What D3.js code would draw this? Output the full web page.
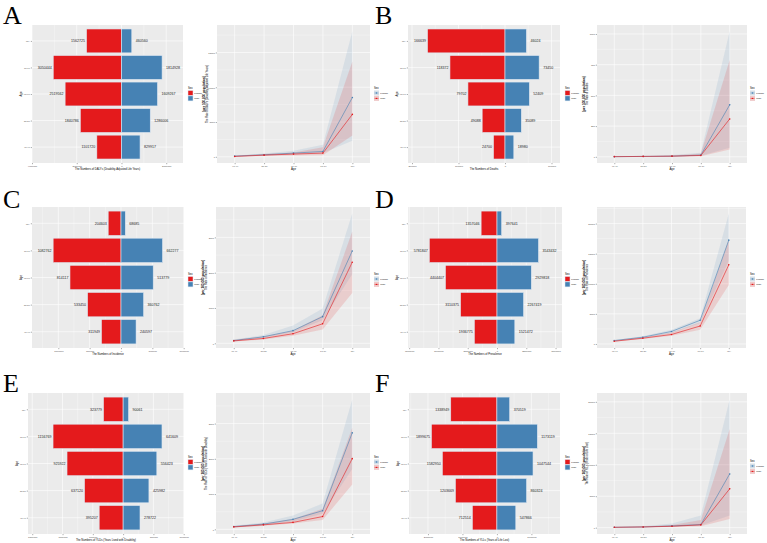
<!DOCTYPE html>
<html><head><meta charset="utf-8">
<script src="https://cdn.jsdelivr.net/npm/d3@7"></script>
<style>body{margin:0;background:#fff} svg{display:block}</style>
</head><body>
<svg id="c" width="767" height="543"></svg>
<script>
// ---------- DATA ----------
const ageGroups = ["40-49","50-59","60-69","70-79","80+"];
const sexes = ["Female","Male"];

// Counts (youngest group first)
const dalysFemale = [1101720, 1840786, 2519562, 3050444, 1562725];
const dalysMale   = [829917, 1286006, 1609267, 1814928, 460560];
const deathsFemale = [24700, 49088, 79702, 118372, 166639];
const deathsMale   = [18980, 35089, 52409, 73450, 46024];
const incidenceFemale = [311949, 533450, 814117, 1082762, 204603];
const incidenceMale   = [240597, 360762, 513779, 662277, 68685];
const prevalenceFemale = [1936775, 3110375, 4404407, 5781847, 1357046];
const prevalenceMale   = [1521472, 2267419, 2929818, 3543432, 397641];
const yldsFemale = [395207, 637120, 925922, 1156769, 323779];
const yldsMale   = [278722, 425982, 556423, 641609, 90061];
const yllsFemale = [712514, 1203669, 1582950, 1899675, 1338949];
const yllsMale   = [547866, 860324, 1047544, 1173119, 370519];

// Count axis limits and ticks
const dalysLimits = [-4000000, 2750000], dalysTicks = [-4000000, -2000000, 0, 2000000];
const deathsLimits = [-208600, 118300], deathsTicks = [-200000, -100000, 0, 100000];
const incidenceLimits = [-1420000, 1005000], incidenceTicks = [-1000000, -500000, 0, 500000, 1000000];
const prevalenceLimits = [-7600000, 5550000], prevalenceTicks = [-7500000, -5000000, -2500000, 0, 2500000, 5000000];
const yldsLimits = [-1570000, 1005000], yldsTicks = [-1500000, -1000000, -500000, 0, 500000, 1000000];
const yllsLimits = [-2550000, 1830000], yllsTicks = [-2000000, -1000000, 0, 1000000];

// Rates per 100,000 (value, lower, upper)
const dalysRateFemale = [100, 290, 530, 770, 8520];
const dalysRateFemaleLow = [50, 190, 340, 530, 2320];
const dalysRateFemaleHigh = [150, 480, 870, 1740, 18050];
const dalysRateMale = [50, 240, 390, 530, 6100];
const dalysRateMaleLow = [10, 100, 190, 240, 3050];
const dalysRateMaleHigh = [150, 390, 630, 1360, 13700];
const dalysRateTicks = [0, 5000, 10000, 15000];

const deathsRateFemale = [1, 3, 5, 14, 423];
const deathsRateFemaleLow = [0.5, 1, 3, 8, 74];
const deathsRateFemaleHigh = [3, 5, 14, 33, 1022];
const deathsRateMale = [1, 3, 5, 11, 308];
const deathsRateMaleLow = [0.5, 1, 3, 5, 60];
const deathsRateMaleHigh = [3, 5, 11, 27, 788];
const deathsRateTicks = [0, 250, 500, 750, 1000];

const incidenceRateFemale = [77, 184, 358, 755, 2614];
const incidenceRateFemaleLow = [68, 155, 310, 649, 1955];
const incidenceRateFemaleHigh = [106, 232, 503, 987, 3679];
const incidenceRateMale = [68, 136, 271, 552, 2294];
const incidenceRateMaleLow = [48, 106, 213, 387, 1423];
const incidenceRateMaleHigh = [97, 194, 358, 794, 3166];
const incidenceRateTicks = [0, 1000, 2000, 3000];

const prevalenceRateFemale = [562, 1124, 2079, 3933, 17247];
const prevalenceRateFemaleLow = [449, 955, 1798, 3483, 13820];
const prevalenceRateFemaleHigh = [618, 1292, 2360, 4270, 21685];
const prevalenceRateMale = [449, 955, 1573, 2978, 13146];
const prevalenceRateMaleLow = [393, 843, 1348, 2360, 9775];
const prevalenceRateMaleHigh = [562, 1124, 1910, 3596, 17360];
const prevalenceRateTicks = [0, 5000, 10000, 15000, 20000];

const yldsRateFemale = [78, 147, 283, 528, 2737];
const yldsRateFemaleLow = [59, 108, 225, 440, 1711];
const yldsRateFemaleHigh = [98, 196, 391, 733, 3685];
const yldsRateMale = [68, 127, 196, 362, 2004];
const yldsRateMaleLow = [49, 98, 166, 264, 1271];
const yldsRateMaleHigh = [88, 166, 293, 587, 2884];
const yldsRateTicks = [0, 1000, 2000, 3000];

const yllsRateFemale = [55, 110, 275, 496, 8540];
const yllsRateFemaleLow = [10, 55, 165, 331, 1928];
const yllsRateFemaleHigh = [110, 220, 661, 1928, 20386];
const yllsRateMale = [55, 110, 220, 441, 6171];
const yllsRateMaleLow = [10, 55, 110, 220, 1377];
const yllsRateMaleHigh = [110, 165, 441, 1212, 15702];
const yllsRateTicks = [0, 5000, 10000, 15000, 20000];

// ---------- DRAWING ----------
const svg = d3.select("#c");
const FONT = "'Liberation Sans', Arial, sans-serif";
const RED = "#E41A1C", BLUE = "#4682B4";
const PANEL = "#EBEBEB";

function styleAxis(sel){
  sel.select(".domain").remove();
  sel.selectAll(".tick line").attr("stroke","#333").attr("stroke-width",0.4);
  sel.selectAll(".tick text").attr("fill","#4D4D4D").style("font-size","2.4px").style("font-family",FONT);
}
function txt(g, x, y, s, size, opts={}){
  const t = g.append("text").attr("x",x).attr("y",y).text(s)
    .style("font-family",FONT).style("font-size",size+"px").attr("fill",opts.fill||"#000");
  if(opts.anchor) t.attr("text-anchor",opts.anchor);
  if(opts.bold) t.style("font-weight","bold");
  if(opts.rotate) t.attr("transform",`rotate(-90,${x},${y})`);
  return t;
}
function minorOf(ticks, lo, hi){
  const st = ticks[1]-ticks[0];
  const ext = [ticks[0]-st, ...ticks, ticks[ticks.length-1]+st];
  const out = [];
  for(let i=0;i<ext.length-1;i++){ const m=(ext[i]+ext[i+1])/2; if(m>lo && m<hi) out.push(m); }
  return out;
}

function drawBar(spec){
  const {box, female, male, limits, ticks, title, leg} = spec;
  const g = svg.append("g");
  const x = d3.scaleLinear().domain(limits).range([box.x0, box.x1]);
  const y = d3.scalePoint().domain(ageGroups).range([box.y1, box.y0]).padding(0.6);
  const bh = y.step()*0.9;
  g.append("rect").attr("x",box.x0).attr("y",box.y0).attr("width",box.x1-box.x0).attr("height",box.y1-box.y0).attr("fill",PANEL);
  minorOf(ticks, limits[0], limits[1]).forEach(v=>{
    g.append("line").attr("x1",x(v)).attr("x2",x(v)).attr("y1",box.y0).attr("y2",box.y1).attr("stroke","#fff").attr("stroke-width",0.3);
  });
  ticks.forEach(v=>{
    g.append("line").attr("x1",x(v)).attr("x2",x(v)).attr("y1",box.y0).attr("y2",box.y1).attr("stroke","#fff").attr("stroke-width",0.6);
  });
  ageGroups.forEach(a=>{
    g.append("line").attr("x1",box.x0).attr("x2",box.x1).attr("y1",y(a)).attr("y2",y(a)).attr("stroke","#fff").attr("stroke-width",0.6);
  });
  const rows = ageGroups.map((a,i)=>({a, f:female[i], m:male[i]}));
  g.selectAll(".bf").data(rows).join("rect")
    .attr("x",d=>x(-d.f)).attr("width",d=>x(0)-x(-d.f))
    .attr("y",d=>y(d.a)-bh/2).attr("height",bh)
    .attr("fill",RED).attr("stroke","#dfe8f2").attr("stroke-width",0.6);
  g.selectAll(".bm").data(rows).join("rect")
    .attr("x",x(0)).attr("width",d=>x(d.m)-x(0))
    .attr("y",d=>y(d.a)-bh/2).attr("height",bh)
    .attr("fill",BLUE).attr("stroke","#dfe8f2").attr("stroke-width",0.6);
  rows.forEach(d=>{
    txt(g, x(-d.f)-1.5, y(d.a)+1.3, d.f, 3.6, {anchor:"end", fill:"#222"});
    txt(g, x(d.m)+4, y(d.a)+1.3, d.m, 3.6, {anchor:"start", fill:"#222"});
  });
  const ax = g.append("g").attr("transform",`translate(0,${box.y1})`)
    .call(d3.axisBottom(x).tickValues(ticks).tickFormat(d=>Math.abs(d)).tickSize(1.2).tickPadding(0.8));
  styleAxis(ax);
  const ay = g.append("g").attr("transform",`translate(${box.x0},0)`)
    .call(d3.axisLeft(y).tickSize(1.2).tickPadding(0.8));
  styleAxis(ay);
  txt(g, (box.x0+box.x1)/2, box.y1+7, title, 2.7, {anchor:"middle"});
  txt(g, box.x0-10, (box.y0+box.y1)/2, "Age", 2.8, {anchor:"middle", rotate:true});
  // legend
  txt(g, leg[0], leg[1]+2, "Sex", 2.7);
  sexes.forEach((s,i)=>{
    const yy = leg[1]+3.5+i*5.4;
    g.append("rect").attr("x",leg[0]).attr("y",yy).attr("width",5).attr("height",5)
      .attr("fill", i===0?RED:BLUE).attr("stroke","#dfe8f2").attr("stroke-width",0.5);
    txt(g, leg[0]+6.3, yy+3.3, s, 2.3);
  });
}

function drawLine(spec){
  const {box, series, ticks, title, leg} = spec;
  const g = svg.append("g");
  const x = d3.scalePoint().domain(ageGroups).range([box.x0, box.x1]).padding(0.6);
  const all = series.flatMap(s=>[...s.lo, ...s.hi, ...s.v]);
  const lo = d3.min(all), hi = d3.max(all), pad = (hi-lo)*0.05;
  const y = d3.scaleLinear().domain([lo-pad, hi+pad]).range([box.y1, box.y0]);
  g.append("rect").attr("x",box.x0).attr("y",box.y0).attr("width",box.x1-box.x0).attr("height",box.y1-box.y0).attr("fill",PANEL);
  minorOf(ticks, lo-pad, hi+pad).forEach(v=>{
    g.append("line").attr("x1",box.x0).attr("x2",box.x1).attr("y1",y(v)).attr("y2",y(v)).attr("stroke","#fff").attr("stroke-width",0.3);
  });
  ticks.forEach(v=>{
    g.append("line").attr("x1",box.x0).attr("x2",box.x1).attr("y1",y(v)).attr("y2",y(v)).attr("stroke","#fff").attr("stroke-width",0.6);
  });
  ageGroups.forEach(a=>{
    g.append("line").attr("x1",x(a)).attr("x2",x(a)).attr("y1",box.y0).attr("y2",box.y1).attr("stroke","#fff").attr("stroke-width",0.6);
  });
  const area = d3.area().x(d=>x(d.a)).y0(d=>y(d.lo)).y1(d=>y(d.hi));
  const line = d3.line().x(d=>x(d.a)).y(d=>y(d.v));
  series.forEach(s=>{
    const pts = ageGroups.map((a,i)=>({a, v:s.v[i], lo:s.lo[i], hi:s.hi[i]}));
    s.pts = pts;
    g.append("path").attr("d",area(pts)).attr("fill",s.color).attr("fill-opacity",s.alpha);
  });
  series.forEach(s=>{
    g.append("path").attr("d",line(s.pts)).attr("fill","none").attr("stroke",s.color).attr("stroke-width",0.6);
    g.selectAll(null).data(s.pts).join("circle").attr("cx",d=>x(d.a)).attr("cy",d=>y(d.v)).attr("r",0.8).attr("fill",s.color);
  });
  const ax = g.append("g").attr("transform",`translate(0,${box.y1})`)
    .call(d3.axisBottom(x).tickSize(1.2).tickPadding(0.8));
  styleAxis(ax);
  const ay = g.append("g").attr("transform",`translate(${box.x0},0)`)
    .call(d3.axisLeft(y).tickValues(ticks).tickFormat(d3.format("d")).tickSize(1.2).tickPadding(0.8));
  styleAxis(ay);
  txt(g, (box.x0+box.x1)/2, box.y1+7, "Age", 2.8, {anchor:"middle"});
  const cy = (box.y0+box.y1)/2;
  txt(g, box.x0-12, cy, "(per 100,000 population)", 3.1, {anchor:"middle", rotate:true, bold:true});
  txt(g, box.x0-9, cy, title, 2.6, {anchor:"middle", rotate:true});
  // legend
  txt(g, leg[0], leg[1]+2, "Sex", 2.7);
  series.forEach((s,i)=>{
    const yy = leg[1]+3.5+i*5.4;
    g.append("rect").attr("x",leg[0]).attr("y",yy).attr("width",5).attr("height",5).attr("fill","#F2F2F2");
    g.append("rect").attr("x",leg[0]).attr("y",yy).attr("width",5).attr("height",5).attr("fill",s.color).attr("fill-opacity",s.alpha+0.05);
    g.append("line").attr("x1",leg[0]+0.5).attr("x2",leg[0]+4.5).attr("y1",yy+2.5).attr("y2",yy+2.5).attr("stroke",s.color).attr("stroke-width",0.5);
    g.append("circle").attr("cx",leg[0]+2.5).attr("cy",yy+2.5).attr("r",0.7).attr("fill",s.color);
    txt(g, leg[0]+6.3, yy+3.3, s.name, 2.3);
  });
}

function mkSeries(fv, flo, fhi, mv, mlo, mhi){
  return [
    {name:"Female", color:BLUE, alpha:0.12, v:fv, lo:flo, hi:fhi},
    {name:"Male", color:RED, alpha:0.14, v:mv, lo:mlo, hi:mhi}
  ];
}

const R1 = [25,163], R2 = [207,348], R3 = [393,534];

// Panel letters
[["A",3,24],["B",375,24],["C",3,208],["D",375,208],["E",3,392],["F",375,392]].forEach(([l,x,y])=>{
  svg.append("text").attr("x",x).attr("y",y).text(l)
    .style("font-family","'Liberation Serif', 'Times New Roman', serif").style("font-size","26px").attr("fill","#000");
});

// A
drawBar({box:{x0:32,x1:183,y0:R1[0],y1:R1[1]}, female:dalysFemale, male:dalysMale, limits:dalysLimits, ticks:dalysTicks,
  title:"The Numbers of DALYs (Disability-Adjusted Life Years)", leg:[188,87]});
drawLine({box:{x0:217,x1:370,y0:R1[0],y1:R1[1]},
  series:mkSeries(dalysRateFemale,dalysRateFemaleLow,dalysRateFemaleHigh,dalysRateMale,dalysRateMaleLow,dalysRateMaleHigh),
  ticks:dalysRateTicks, title:"The Rate of DALYs (Disability-Adjusted Life Years)", leg:[374,87]});
// B
drawBar({box:{x0:408,x1:560,y0:R1[0],y1:R1[1]}, female:deathsFemale, male:deathsMale, limits:deathsLimits, ticks:deathsTicks,
  title:"The Numbers of Deaths", leg:[565,87]});
drawLine({box:{x0:597,x1:747,y0:R1[0],y1:R1[1]},
  series:mkSeries(deathsRateFemale,deathsRateFemaleLow,deathsRateFemaleHigh,deathsRateMale,deathsRateMaleLow,deathsRateMaleHigh),
  ticks:deathsRateTicks, title:"The Rate of Deaths", leg:[750,87]});
// C
drawBar({box:{x0:32,x1:184,y0:R2[0],y1:R2[1]}, female:incidenceFemale, male:incidenceMale, limits:incidenceLimits, ticks:incidenceTicks,
  title:"The Numbers of Incidence", leg:[188,273]});
drawLine({box:{x0:216,x1:370,y0:R2[0],y1:R2[1]},
  series:mkSeries(incidenceRateFemale,incidenceRateFemaleLow,incidenceRateFemaleHigh,incidenceRateMale,incidenceRateMaleLow,incidenceRateMaleHigh),
  ticks:incidenceRateTicks, title:"The Rate of Incidence", leg:[374,273]});
// D
drawBar({box:{x0:408,x1:562,y0:R2[0],y1:R2[1]}, female:prevalenceFemale, male:prevalenceMale, limits:prevalenceLimits, ticks:prevalenceTicks,
  title:"The Numbers of Prevalence", leg:[565,273]});
drawLine({box:{x0:597,x1:746,y0:R2[0],y1:R2[1]},
  series:mkSeries(prevalenceRateFemale,prevalenceRateFemaleLow,prevalenceRateFemaleHigh,prevalenceRateMale,prevalenceRateMaleLow,prevalenceRateMaleHigh),
  ticks:prevalenceRateTicks, title:"The Rate of Prevalence", leg:[750,273]});
// E
drawBar({box:{x0:28,x1:184,y0:R3[0],y1:R3[1]}, female:yldsFemale, male:yldsMale, limits:yldsLimits, ticks:yldsTicks,
  title:"The Numbers of YLDs (Years Lived with Disability)", leg:[188,456]});
drawLine({box:{x0:216,x1:370,y0:R3[0],y1:R3[1]},
  series:mkSeries(yldsRateFemale,yldsRateFemaleLow,yldsRateFemaleHigh,yldsRateMale,yldsRateMaleLow,yldsRateMaleHigh),
  ticks:yldsRateTicks, title:"The Rate of YLDs (Years Lived with Disability)", leg:[374,456]});
// F
drawBar({box:{x0:409,x1:560,y0:R3[0],y1:R3[1]}, female:yllsFemale, male:yllsMale, limits:yllsLimits, ticks:yllsTicks,
  title:"The Numbers of YLLs (Years of Life Lost)", leg:[565,456]});
drawLine({box:{x0:597,x1:747,y0:R3[0],y1:R3[1]},
  series:mkSeries(yllsRateFemale,yllsRateFemaleLow,yllsRateFemaleHigh,yllsRateMale,yllsRateMaleLow,yllsRateMaleHigh),
  ticks:yllsRateTicks, title:"The Rate of YLLs (Years of Life Lost)", leg:[750,460]});
</script>
</body></html>
